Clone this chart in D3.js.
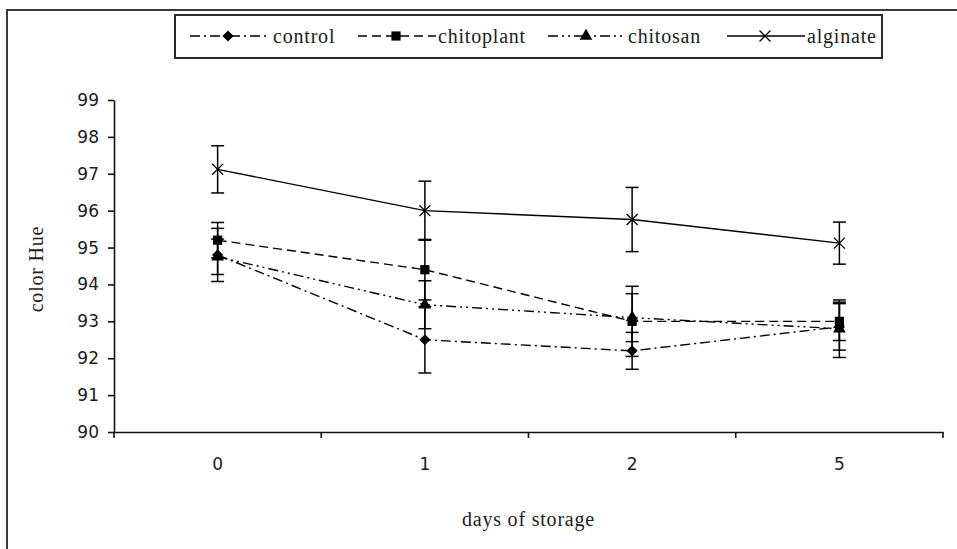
<!DOCTYPE html>
<html>
<head>
<meta charset="utf-8">
<script src="https://cdn.jsdelivr.net/npm/d3@7"></script>
<style>
  body { margin: 0; background: #fff; }
  svg { display: block; }
</style>
</head>
<body>
<svg id="chart" width="957" height="549"></svg>
<script>
const days = ["0", "1", "2", "5"];
const yTicks = [90, 91, 92, 93, 94, 95, 96, 97, 98, 99];

const controlVals = [94.8, 92.5, 92.2, 92.85];
const controlErr = [0.72, 0.9, 0.5, 0.63];
const chitoplantVals = [95.2, 94.4, 93.0, 93.0];
const chitoplantErr = [0.48, 0.82, 0.95, 0.52];
const chitosanVals = [94.75, 93.45, 93.1, 92.8];
const chitosanErr = [0.48, 0.65, 0.65, 0.78];
const alginateVals = [97.12, 96.0, 95.76, 95.12];
const alginateErr = [0.64, 0.8, 0.87, 0.57];

const seriesNames = ["control", "chitoplant", "chitosan", "alginate"];

const series = [
  { name: seriesNames[0], vals: controlVals, err: controlErr, dash: "10,4,2,4", mark: "diamond" },
  { name: seriesNames[1], vals: chitoplantVals, err: chitoplantErr, dash: "9,5", mark: "square" },
  { name: seriesNames[2], vals: chitosanVals, err: chitosanErr, dash: "10,4,2,4,2,4", mark: "triangle" },
  { name: seriesNames[3], vals: alginateVals, err: alginateErr, dash: null, mark: "x" },
];

const SERIF = '"Liberation Serif", "Times New Roman", serif';
const SANS = '"DejaVu Sans", Verdana, sans-serif';

const svg = d3.select("#chart");
const margin = { left: 114, right: 943, top: 100, bottom: 432 };

// outer frame, cut off at right and bottom like the original
svg.append("rect")
  .attr("x", 7).attr("y", 10)
  .attr("width", 1000).attr("height", 600)
  .attr("fill", "none").attr("stroke", "#3a3a3a").attr("stroke-width", 2);

const x = d3.scaleBand().domain(days).range([margin.left, margin.right]);
const y = d3.scaleLinear().domain([90, 99]).range([margin.bottom, margin.top]);
const cx = (i) => x(days[i]) + x.bandwidth() / 2;

function serifText(sel) {
  return sel.attr("font-family", SERIF).attr("font-size", 20)
    .attr("letter-spacing", 0.8).attr("fill", "#1c1c1c");
}

// y axis
const yAxis = svg.append("g")
  .attr("transform", `translate(${margin.left},0)`)
  .call(d3.axisLeft(y).tickValues(yTicks).tickSize(6).tickSizeOuter(0).tickPadding(9).tickFormat(d3.format("d")));
yAxis.attr("font-family", SANS).attr("font-size", 17);
yAxis.selectAll(".tick text").attr("fill", "#1c1c1c");
yAxis.select(".domain").attr("stroke", "#111").attr("stroke-width", 1.6);
yAxis.selectAll(".tick line").attr("stroke", "#111").attr("stroke-width", 1.6);

// x axis: labels at category centres, tick marks between categories
const xAxis = svg.append("g")
  .attr("transform", `translate(0,${margin.bottom})`)
  .call(d3.axisBottom(x).tickSize(0).tickSizeOuter(0).tickPadding(26));
xAxis.attr("font-family", SANS).attr("font-size", 17);
xAxis.selectAll(".tick text").attr("fill", "#1c1c1c");
xAxis.select(".domain").attr("stroke", "#111").attr("stroke-width", 1.6);

const bounds = days.map((d) => x(d)).concat([x.range()[1]]);
svg.append("g").selectAll("line")
  .data(bounds)
  .enter()
  .append("line")
  .attr("x1", (d) => d).attr("x2", (d) => d)
  .attr("y1", margin.bottom).attr("y2", margin.bottom + 6)
  .attr("stroke", "#111").attr("stroke-width", 1.6);

// axis titles
svg.append("text")
  .call(serifText)
  .attr("x", (margin.left + margin.right) / 2)
  .attr("y", 526)
  .attr("text-anchor", "middle")
  .text("days of storage");

svg.append("text")
  .call(serifText)
  .attr("transform", "translate(43,269) rotate(-90)")
  .attr("text-anchor", "middle")
  .text("color Hue");

function markerPath(kind) {
  if (kind === "diamond") return d3.symbol().type(d3.symbolSquare).size(62)();
  if (kind === "square") return d3.symbol().type(d3.symbolSquare).size(85)();
  if (kind === "triangle") return d3.symbol().type(d3.symbolTriangle).size(70)();
  return d3.symbol().type(d3.symbolX || d3.symbolCross).size(80)();
}

function drawMarker(g, kind, px, py) {
  const m = g.append("path")
    .attr("d", markerPath(kind))
    .attr("transform", `translate(${px},${py})` + (kind === "diamond" ? " rotate(45)" : ""));
  if (kind === "x") {
    m.attr("fill", "none").attr("stroke", "#000").attr("stroke-width", 1.3);
  } else {
    m.attr("fill", "#000");
  }
}

const line = d3.line()
  .x((d, i) => cx(i))
  .y((d) => y(d));

const plot = svg.append("g");

series.forEach((s) => {
  const g = plot.append("g");

  g.append("path")
    .datum(s.vals)
    .attr("d", line)
    .attr("fill", "none")
    .attr("stroke", "#000")
    .attr("stroke-width", 1.4)
    .attr("stroke-dasharray", s.dash);

  s.vals.forEach((v, i) => {
    const top = y(v + s.err[i]);
    const bot = y(v - s.err[i]);
    g.append("line")
      .attr("x1", cx(i)).attr("x2", cx(i))
      .attr("y1", top).attr("y2", bot)
      .attr("stroke", "#000").attr("stroke-width", 1.5);
    [top, bot].forEach((yy) => {
      g.append("line")
        .attr("x1", cx(i) - 6.5).attr("x2", cx(i) + 6.5)
        .attr("y1", yy).attr("y2", yy)
        .attr("stroke", "#000").attr("stroke-width", 1.5);
    });
    drawMarker(g, s.mark, cx(i), y(v));
  });
});

// legend
svg.append("rect")
  .attr("x", 175).attr("y", 15)
  .attr("width", 707).attr("height", 43)
  .attr("fill", "#fff").attr("stroke", "#2a2a2a").attr("stroke-width", 2);

const legendX = [190, 358, 548, 727];
const legendY = 36;

series.forEach((s, i) => {
  const lx = legendX[i];
  svg.append("line")
    .attr("x1", lx).attr("x2", lx + 78)
    .attr("y1", legendY).attr("y2", legendY)
    .attr("stroke", "#000").attr("stroke-width", 1.4)
    .attr("stroke-dasharray", s.dash);
  drawMarker(svg, s.mark, lx + 38, legendY);
  svg.append("text")
    .call(serifText)
    .attr("x", lx + (i === 0 ? 83 : 80))
    .attr("y", legendY + 7)
    .text(s.name);
});
</script>
</body>
</html>
